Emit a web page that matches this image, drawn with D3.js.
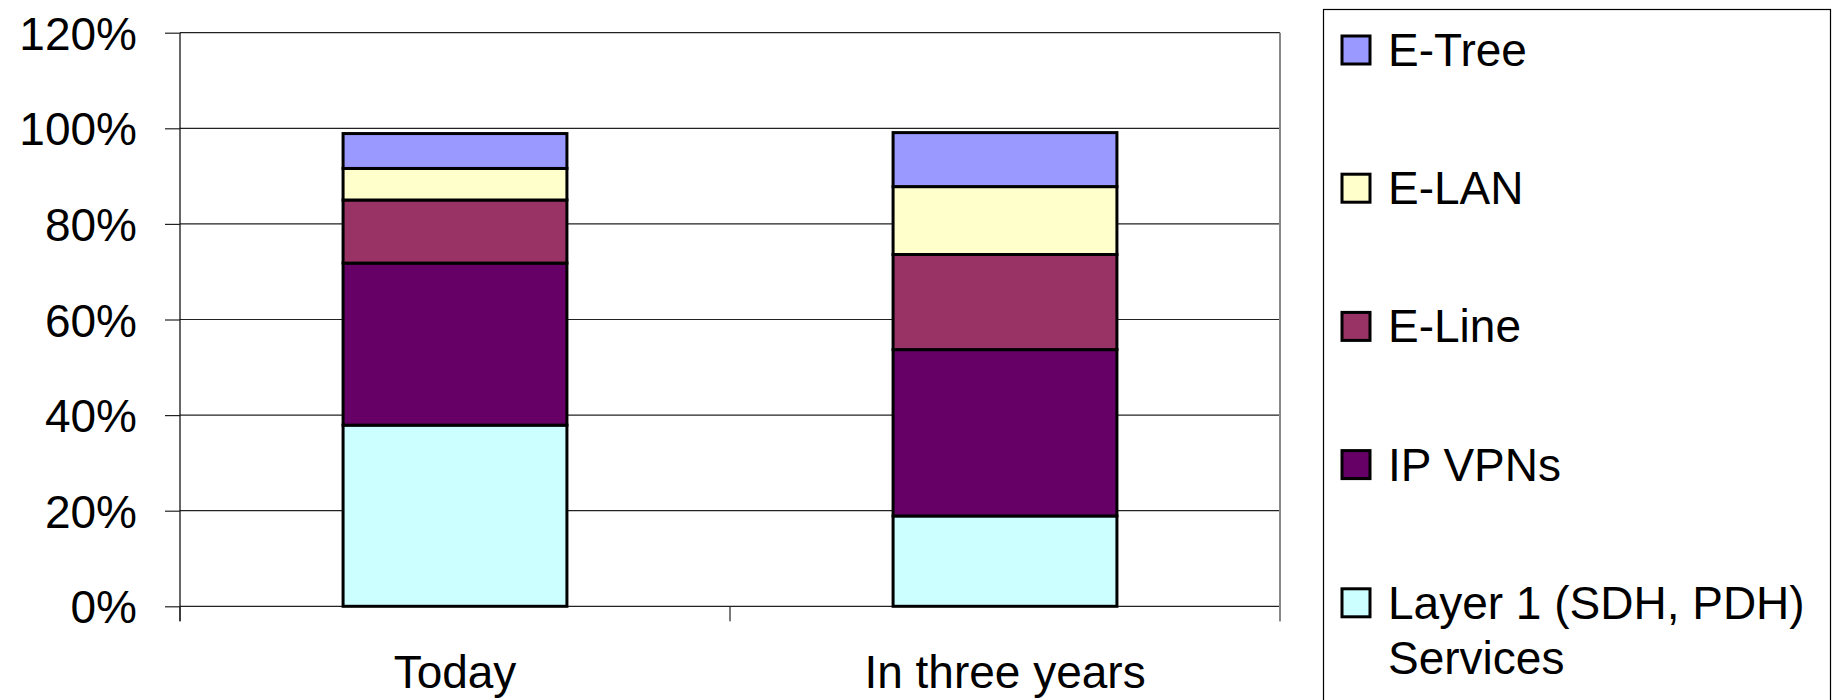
<!DOCTYPE html>
<html><head><meta charset="utf-8">
<script src="https://cdn.jsdelivr.net/npm/d3@7"></script>
<style>
html,body{margin:0;padding:0;background:#fff;}
svg{display:block;font-family:"Liberation Sans",Arial,sans-serif;}
</style></head>
<body>
<svg id="chart" width="1834" height="700"></svg>
<script>
const categories = ["Today", "In three years"];
const seriesNames = ["Layer 1 (SDH, PDH) Services", "IP VPNs", "E-Line", "E-LAN", "E-Tree"];
const layer1 = [37.9, 18.9];
const ipVpns = [33.9, 34.8];
const eLine = [13.2, 19.9];
const eLan = [6.6, 14.2];
const eTree = [7.3, 11.3];
const yTicks = [0, 20, 40, 60, 80, 100, 120];
const colors = ["#CCFFFF", "#660066", "#993366", "#FFFFCC", "#9999FF"];

(function () {
const seriesValues = [layer1, ipVpns, eLine, eLan, eTree];
const rows = categories.map((c, i) => {
  const r = {cat: c};
  seriesNames.forEach((s, j) => r[s] = seriesValues[j][i]);
  return r;
});

const svg = d3.select("#chart");
const pLeft = 180, pRight = 1280, pTop = 32.7, pBottom = 606.3;
const x = d3.scaleBand().domain(categories).range([pLeft, pRight]).padding(0);
const y = d3.scaleLinear().domain([0, 120]).range([pBottom, pTop]);
const barW = x.bandwidth() * 0.407;

// gridlines
svg.append("g").selectAll("line").data(yTicks).join("line")
  .attr("x1", pLeft).attr("x2", pRight)
  .attr("y1", d => y(d)).attr("y2", d => y(d))
  .attr("stroke", "#222").attr("stroke-width", 1.2);

// right border of plot area
svg.append("line").attr("x1", pRight).attr("x2", pRight)
  .attr("y1", y(120)).attr("y2", pBottom + 15)
  .attr("stroke", "#888").attr("stroke-width", 2);

// stacked bars
const stack = d3.stack().keys(seriesNames)(rows);
const g = svg.append("g");
stack.forEach((layer, j) => {
  g.append("g").selectAll("rect").data(layer).join("rect")
    .attr("x", d => x(d.data.cat) + (x.bandwidth() - barW) / 2)
    .attr("width", barW)
    .attr("y", d => y(d[1]))
    .attr("height", d => y(d[0]) - y(d[1]))
    .attr("fill", colors[j])
    .attr("stroke", "#000").attr("stroke-width", 3);
});

// y axis
const yAxis = d3.axisLeft(y).tickValues(yTicks).tickFormat(d => d + "%").tickSize(15).tickPadding(28);
const ya = svg.append("g").attr("transform", `translate(${pLeft},0)`).call(yAxis);
ya.select(".domain").attr("stroke", "#000").attr("stroke-width", 1.2).attr("d", `M0,${pTop}V${pBottom + 15}`);
ya.selectAll(".tick line").attr("stroke", "#222").attr("stroke-width", 1.2);
ya.selectAll("text").attr("font-size", 46).attr("fill", "#000")
  .attr("font-family", "Liberation Sans, Arial, sans-serif").attr("dy", "0.36em");

// x axis
const xAxis = d3.axisBottom(x).tickSize(0).tickPadding(0);
const xa = svg.append("g").attr("transform", `translate(0,${pBottom})`).call(xAxis);
xa.select(".domain").remove();
xa.selectAll("text").attr("font-size", 46).attr("fill", "#000")
  .attr("font-family", "Liberation Sans, Arial, sans-serif").attr("dy", 0).attr("y", 82);
// x tick marks at band boundaries
const bounds = [pLeft, x(categories[1]), pRight];
svg.append("g").selectAll("line").data(bounds).join("line")
  .attr("x1", d => d).attr("x2", d => d)
  .attr("y1", pBottom).attr("y2", pBottom + 15)
  .attr("stroke", d => d === pRight ? "#888" : "#222").attr("stroke-width", d => d === pRight ? 2 : 1.2);

// legend
const lg = svg.append("g");
lg.append("rect").attr("x", 1323.5).attr("y", 9.5).attr("width", 507).attr("height", 720)
  .attr("fill", "#fff").attr("stroke", "#000").attr("stroke-width", 1.2);
const legendOrder = [4, 3, 2, 1, 0];
const legendLines = {0: ["Layer 1 (SDH, PDH)", "Services"]};
legendOrder.forEach((j, k) => {
  const cy = 50 + k * 138.2;
  lg.append("rect").attr("x", 1342).attr("y", cy - 14).attr("width", 28).attr("height", 28)
    .attr("fill", colors[j]).attr("stroke", "#000").attr("stroke-width", 3);
  const lines = legendLines[j] || [seriesNames[j]];
  const t = lg.append("text").attr("x", 1388).attr("y", cy + 16).attr("font-size", 46).attr("fill", "#000");
  lines.forEach((ln, i) => t.append("tspan").attr("x", 1388).attr("dy", i === 0 ? 0 : 55.5).text(ln));
});
})();
</script>
</body></html>
